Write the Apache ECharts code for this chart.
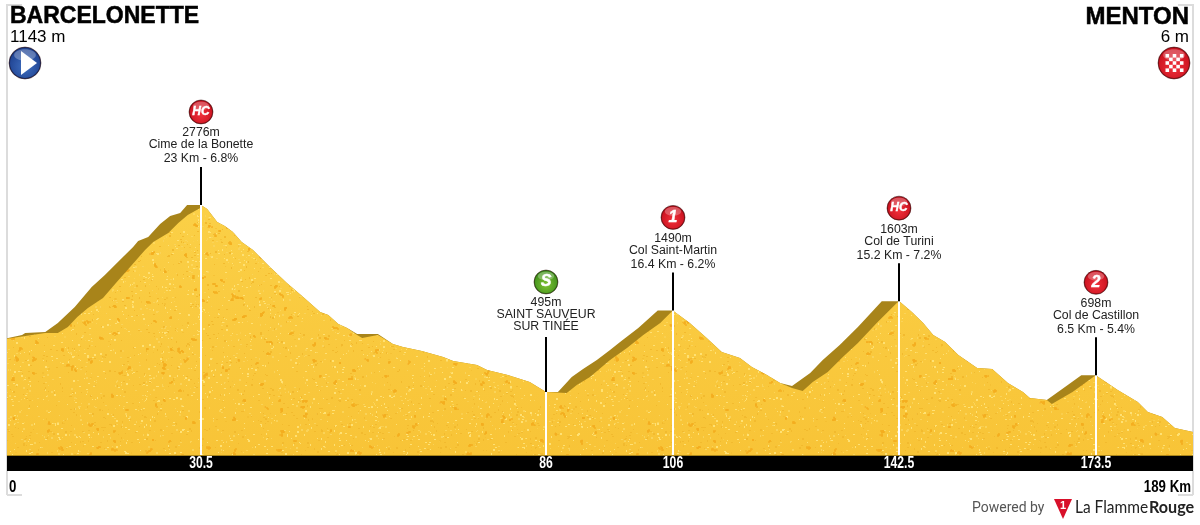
<!DOCTYPE html>
<html><head><meta charset="utf-8">
<style>html,body{margin:0;padding:0;background:#fff}#c{width:1200px;height:525px}</style>
<script src="https://cdn.jsdelivr.net/npm/echarts@6/dist/echarts.min.js"></script>
</head><body><div id="c"></div>
<script>
const startName = 'BARCELONETTE', startAltitude = '1143 m';
const finishName = 'MENTON', finishAltitude = '6 m';
const totalKm = 189;
const minElevation = -273, maxElevation = 5214;

// [km, metres] top edge of the profile, including the shaded climbing side
const ridgeProfile = [[0,1150],[2.4,1190],[2.9,1214],[6.1,1227],[8.1,1336],[10.8,1532],[13.5,1776],[15.6,1922],[18,2105],[20.1,2263],[20.9,2336],[22.5,2385],[24.4,2544],[26,2641],[27.6,2678],[28.7,2776],[30.9,2776],
[31.9,2727],[33.5,2568],[34.7,2519],[36,2446],[37.4,2324],[39.2,2227],[41.9,2019],[44.6,1824],[47.2,1654],[49.9,1471],[51.2,1434],[52.8,1324],[54.2,1275],[55.8,1202],[56.3,1202],[59.1,1202],[61.5,1080],[63.1,1044],[66.1,995],[69.5,922],[71.1,873],[74.9,824],[76.5,763],[79.8,702],[83.3,617],[85.9,495],
[87.8,495],[90,678],[91.8,775],[94,885],[96.1,1007],[97.7,1105],[100.6,1275],[103.7,1490],[106.1,1490],
[108.8,1336],[111.5,1154],[113.9,983],[116.8,910],[118.7,800],[121.1,702],[123.2,605],[125.1,568],
[128,727],[130,885],[132.7,1068],[135.6,1288],[139.4,1603],[142.2,1603],
[144.2,1471],[146,1336],[147.6,1190],[149.5,1105],[151.6,946],[154.6,788],[157,775],[159.5,605],[161.9,495],[163,422],[165.7,397],
[168.6,556],[171.2,698],[173.5,698],[177,519],[180.2,373],[181.8,251],[184.1,190],[186.1,56],[189,6]];

// [km, metres] top edge of the textured face, lower than the ridge on climbs
const faceProfile = [[0,1143],[6.1,1214],[8.1,1214],[9.7,1288],[11.2,1410],[12.9,1519],[15.3,1641],[17.5,1836],[19.9,2044],[22,2227],[23.3,2324],[25.7,2434],[27.3,2556],[28.8,2653],[30.8,2739],[30.9,2776],
[31.9,2727],[33.5,2568],[34.7,2519],[36,2446],[37.4,2324],[39.2,2227],[41.9,2019],[44.6,1824],[47.2,1654],[49.9,1471],[51.2,1434],[52.8,1324],[54.2,1275],[55.8,1190],[56.6,1154],[59.1,1190],[61.5,1080],[63.1,1044],[66.1,995],[69.5,922],[71.1,873],[74.9,824],[76.5,763],[79.8,702],[83.3,617],[85.9,495],
[89.2,483],[90.8,580],[92.9,678],[96.1,885],[98.8,1032],[101.4,1190],[104.1,1336],[106.1,1490],
[108.8,1336],[111.5,1154],[113.9,983],[116.8,910],[118.7,800],[121.1,702],[123.2,605],[125.1,544],[126.8,507],
[128.4,617],[130.8,739],[133.2,922],[135.6,1093],[138.6,1336],[141.8,1580],[142.2,1603],
[144.2,1471],[146,1336],[147.6,1190],[149.5,1105],[151.6,946],[154.6,788],[157,775],[159.5,605],[161.9,495],[163,422],[165.7,397],[166.5,349],
[169.8,495],[173.5,698],[177,519],[180.2,373],[181.8,251],[184.1,190],[186.1,56],[189,6]];

const climbKm = [30.9, 85.9, 106.1, 142.2, 173.5];
const climbElevation = [2776, 495, 1490, 1603, 698];
const climbKmLabels = ['30.5', '86', '106', '142.5', '173.5'];
const climbBadges = ['HC', 'S', '1', 'HC', '2'];
const climbHeights = ['2776m', '495m', '1490m', '1603m', '698m'];
const climbNames = ['Cime de la Bonette', 'SAINT SAUVEUR', 'Col Saint-Martin', 'Col de Turini', 'Col de Castillon'];
const climbDetails = ['23 Km - 6.8%', 'SUR TINÉE', '16.4 Km - 6.2%', '15.2 Km - 7.2%', '6.5 Km - 5.4%'];

const BASE = 'Liberation Sans, Arial, sans-serif';

function makeTexture() {
  const w = 600, h = 525, cv = document.createElement('canvas');
  cv.width = w; cv.height = h;
  const g = cv.getContext('2d');
  const lin = g.createLinearGradient(0, 200, 0, 455);
  lin.addColorStop(0, '#FBD047');
  lin.addColorStop(1, '#F8C437');
  g.fillStyle = lin;
  g.fillRect(0, 0, w, h);
  let s = 12345;
  const next = () => (s = (s * 1103515245 + 12345) & 0x7fffffff) / 0x7fffffff;
  for (let i = 0; i < 70000; i++) {
    const v = next();
    g.fillStyle = v < .4 ? 'rgba(255,226,115,.5)' : v < .75 ? 'rgba(242,186,46,.5)' : 'rgba(250,212,88,.6)';
    g.fillRect(next() * w | 0, next() * h | 0, 1 + (next() * 2 | 0), 1 + (next() * 1.4 | 0));
  }
  for (let i = 0; i < 640; i++) {
    const x = next() * w, y = next() * h, n = 3 + (next() * 6 | 0);
    g.fillStyle = 'rgba(244,174,32,.7)';
    let px = x, py = y;
    for (let k = 0; k < n; k++) {
      g.fillRect(px | 0, py | 0, 2, 2);
      px += next() * 3 - 1.5; py += next() * 2.4 - 1.2;
    }
  }
  return cv;
}

function badge(cx, cy, r, colors, label, size) {
  const children = [
    { type: 'circle', shape: { cx, cy, r }, style: { fill: colors[2], stroke: 'rgba(60,20,20,.5)', lineWidth: 1 } },
    { type: 'circle', shape: { cx, cy, r: r - 1 }, style: { fill: { type: 'radial', x: .5, y: .62, r: .62, colorStops: [{ offset: 0, color: colors[0] }, { offset: 1, color: colors[1] }] } } },
    { type: 'ellipse', shape: { cx, cy: cy - r * .5, rx: r * .68, ry: r * .36 }, style: { fill: 'rgba(255,255,255,.28)' } }
  ];
  if (label) children.push({ type: 'text', style: { x: cx, y: cy, text: label, align: 'center', verticalAlign: 'middle', fill: '#fff', stroke: '#fff', lineWidth: .4, font: 'italic bold ' + size + 'px ' + BASE } });
  return children;
}
const RED = ['#F0303A', '#C8101E', '#8E0A12'], GREEN = ['#7EC232', '#3F8F1C', '#2C6B12'], BLUE = ['#3F6FC0', '#1D3F8E', '#14285C'];

const scaled = (x, y, t, font, align, fill, sx) => ({
  type: 'text', x, y, scaleX: sx,
  style: { x: 0, y: 0, text: t, align, verticalAlign: 'middle', fill, font }
});

function renderClimb(params, api) {
  const i = params.dataIndex;
  const p = api.coord([api.value(0), api.value(1)]);
  const x = Math.round(p[0]), peak = p[1];
  const sprint = climbBadges[i] === 'S';
  const stem = sprint ? 55 : 38;
  const foot = api.coord([api.value(0), minElevation])[1];
  const top = peak - stem;
  const cy = top - 55;
  const txt = (t, y) => ({ type: 'text', style: { x, y: y + 1, text: t, align: 'center', verticalAlign: 'middle', fill: '#222', font: '12.3px ' + BASE } });
  return { type: 'group', children: [
    { type: 'rect', shape: { x: x - 1, y: peak, width: 2, height: foot - peak }, style: { fill: '#fff' } },
    { type: 'rect', shape: { x: x - 1, y: top, width: 2, height: stem }, style: { fill: '#000' } },
    ...badge(x, cy, 12, sprint ? GREEN : RED, climbBadges[i], climbBadges[i] === 'HC' ? 12 : 16),
    txt(climbHeights[i], cy + 20), txt(climbNames[i], cy + 32), txt(climbDetails[i], cy + 46 - (sprint ? 2 : 0)),
    scaled(x, foot + 9, climbKmLabels[i], 'bold 16px ' + BASE, 'center', '#fff', .76)
  ] };
}

const frame = (x, dir) => [
  { type: 'rect', shape: { x: x - 1, y: 4, width: 2, height: 491 }, style: { fill: '#DCDCDC' } },
  { type: 'rect', shape: { x: dir > 0 ? x : x - 15, y: 4, width: 15, height: 2 }, style: { fill: '#DCDCDC' } },
  { type: 'rect', shape: { x: dir > 0 ? x : x - 15, y: 494, width: 15, height: 2 }, style: { fill: '#DCDCDC' } }
];
const text = (x, y, t, font, align, fill, stroke) => ({ type: 'text', style: { x, y, text: t, font, textAlign: align || 'left', textVerticalAlign: 'middle', fill: fill || '#000', stroke: stroke ? '#000' : null, lineWidth: stroke || 0 } });

const checks = [];
for (let r = 0; r < 5; r++) for (let c = 0; c < 5; c++) if ((r + c) % 2 === 0)
  checks.push({ type: 'rect', shape: { x: 1165.5 + c * 3.6, y: 54 + r * 3.6, width: 3.6, height: 3.6 }, style: { fill: '#fff' } });

const chart = echarts.init(document.getElementById('c'), null, { renderer: 'canvas' });
chart.setOption({
  animation: false,
  backgroundColor: '#fff',
  grid: { left: 7, right: 7, top: 5, bottom: 70 },
  xAxis: { type: 'value', min: 0, max: totalKm, show: false },
  yAxis: { type: 'value', min: minElevation, max: maxElevation, show: false },
  series: [
    { name: 'ridge', type: 'line', data: ridgeProfile, showSymbol: false, smooth: false, lineStyle: { width: 0 }, areaStyle: { color: '#A8841A', opacity: 1, origin: 'start' }, z: 2 },
    { name: 'face', type: 'line', data: faceProfile, showSymbol: false, smooth: false, lineStyle: { width: 0 }, areaStyle: { color: { image: makeTexture(), repeat: 'repeat' }, opacity: 1, origin: 'start' }, z: 3 },
    { name: 'climbs', type: 'custom', data: climbKm.map((k, i) => [k, climbElevation[i]]), renderItem: renderClimb, encode: { x: 0, y: 1 }, clip: false, z: 5 }
  ],
  graphic: { elements: [
    { type: 'group', silent: true, z: 1, children: frame(7, 1).concat(frame(1193, -1)) },
    { type: 'rect', silent: true, z: 4, shape: { x: 7, y: 455, width: 1186, height: 1 }, style: { fill: '#A8841A' } },
    { type: 'rect', silent: true, z: 4, shape: { x: 7, y: 456, width: 1186, height: 15 }, style: { fill: '#000' } },
    { type: 'group', silent: true, z: 6, children: [
      text(10, 17, startName, 'bold 23px ' + BASE, 'left', '#000', .5),
      text(10, 37, startAltitude, '17px ' + BASE),
      text(1189, 17, finishName, 'bold 24px ' + BASE, 'right', '#000', .5),
      text(1189, 37, finishAltitude, '17px ' + BASE, 'right'),
      ...badge(25, 63, 16, BLUE),
      { type: 'polygon', shape: { points: [[21, 51], [21, 75], [37, 63]] }, style: { fill: '#fff' } },
      ...badge(1174, 63, 16, RED),
      ...checks,
      scaled(9, 487, '0', 'bold 17px ' + BASE, 'left', '#000', .78),
      scaled(1191, 487, totalKm + ' Km', 'bold 17px ' + BASE, 'right', '#000', .78),
      text(972, 508, 'Powered by', '14px Roboto, ' + BASE, 'left', '#555'),
      { type: 'polygon', shape: { points: [[1054, 499], [1072, 499], [1063, 519]] }, style: { fill: '#D8102A' } },
      text(1063, 506, '1', 'bold 11px ' + BASE, 'center', '#fff'),
      scaled(1075, 508, 'La Flamme', '17px Lato, ' + BASE, 'left', '#222', .91),
      scaled(1149, 508, 'Rouge', 'bold 17px Lato, ' + BASE, 'left', '#222', .95)
    ] }
  ] }
});
</script></body></html>
